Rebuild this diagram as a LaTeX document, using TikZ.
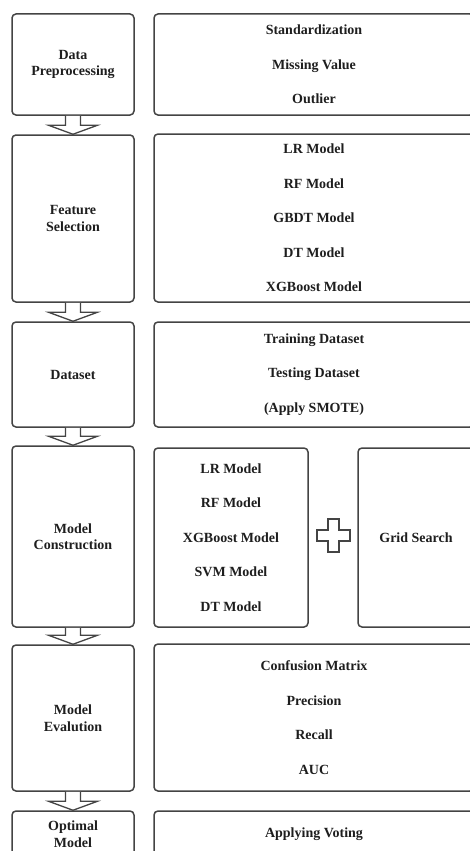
\documentclass[tikz,border=0pt]{standalone}
\usepackage{fontspec}
\setmainfont{Liberation Serif}
\usetikzlibrary{calc}
\definecolor{edge}{HTML}{444444}
\definecolor{ink}{HTML}{1E1E1E}
\tikzset{
  box/.style={draw=edge, line width=1.5pt, rounded corners=4pt, fill=white, inner sep=0pt,
    align=center, text=ink, font=\fontsize{14}{34.5}\selectfont\bfseries},
  lbox/.style={box, font=\fontsize{14}{16.5}\selectfont\bfseries},
  blockarrow/.style={draw=edge, line width=1.3pt, fill=white, line join=miter},
}
\begin{document}
\begin{tikzpicture}[x=1pt,y=-1pt]
\useasboundingbox (0,0) rectangle (470,851);
\clip (0,0) rectangle (470,851);
% left column
\node[lbox, minimum width=122pt, minimum height=101pt] (L1) at (73,64.5) {Data\\Preprocessing};
\node[lbox, minimum width=122pt, minimum height=167pt] (L2) at (73,218.5) {Feature\\Selection};
\node[lbox, minimum width=122pt, minimum height=105pt] (L3) at (73,374.5) {Dataset};
\node[lbox, minimum width=122pt, minimum height=181pt] (L4) at (73,536.5) {Model\\Construction};
\node[lbox, minimum width=122pt, minimum height=146pt] (L5) at (73,718) {Model\\Evalution};
\node[lbox, minimum width=122pt, minimum height=46pt] (L6) at (73,834) {Optimal\\Model};
% right column
\node[box, minimum width=320pt, minimum height=101pt] (R1) at (314,64.5) {Standardization\\Missing Value\\Outlier};
\node[box, minimum width=320pt, minimum height=168pt] (R2) at (314,218) {LR Model\\RF Model\\GBDT Model\\DT Model\\XGBoost Model};
\node[box, minimum width=320pt, minimum height=105pt] (R3) at (314,374.5) {Training Dataset\\Testing Dataset\\(Apply SMOTE)};
\node[box, minimum width=154pt, minimum height=179pt] (R4a) at (231,537.5) {LR Model\\RF Model\\XGBoost Model\\SVM Model\\DT Model};
\node[box, minimum width=116pt, minimum height=179pt] (R4b) at (416,537.5) {Grid Search};
\node[box, minimum width=320pt, minimum height=147pt] (R5) at (314,717.5) {Confusion Matrix\\Precision\\Recall\\AUC};
\node[box, minimum width=320pt, minimum height=46pt] (R6) at (314,834) {Applying Voting};
% plus sign
\coordinate (plus) at (333.5,535.5);
\draw[blockarrow] ($(plus)+(-5.5,-16.5)$) -- ($(plus)+(5.5,-16.5)$) -- ($(plus)+(5.5,-5.5)$)
  -- ($(plus)+(16.5,-5.5)$) -- ($(plus)+(16.5,5.5)$) -- ($(plus)+(5.5,5.5)$)
  -- ($(plus)+(5.5,16.5)$) -- ($(plus)+(-5.5,16.5)$) -- ($(plus)+(-5.5,5.5)$)
  -- ($(plus)+(-16.5,5.5)$) -- ($(plus)+(-16.5,-5.5)$) -- ($(plus)+(-5.5,-5.5)$) -- cycle;
% block arrows
\foreach \a/\b in {L1/L2,L2/L3,L3/L4,L4/L5,L5/L6}{
  \draw[blockarrow] let \p1=(\a.south), \p2=(\b.north) in
    (\x1-7.5pt,\y1) -- (\x1-7.5pt,\y2+9pt) -- (\x1-24.5pt,\y2+9pt) -- (\x2,\y2)
    -- (\x1+24.5pt,\y2+9pt) -- (\x1+7.5pt,\y2+9pt) -- (\x1+7.5pt,\y1);
}
\end{tikzpicture}
\end{document}
